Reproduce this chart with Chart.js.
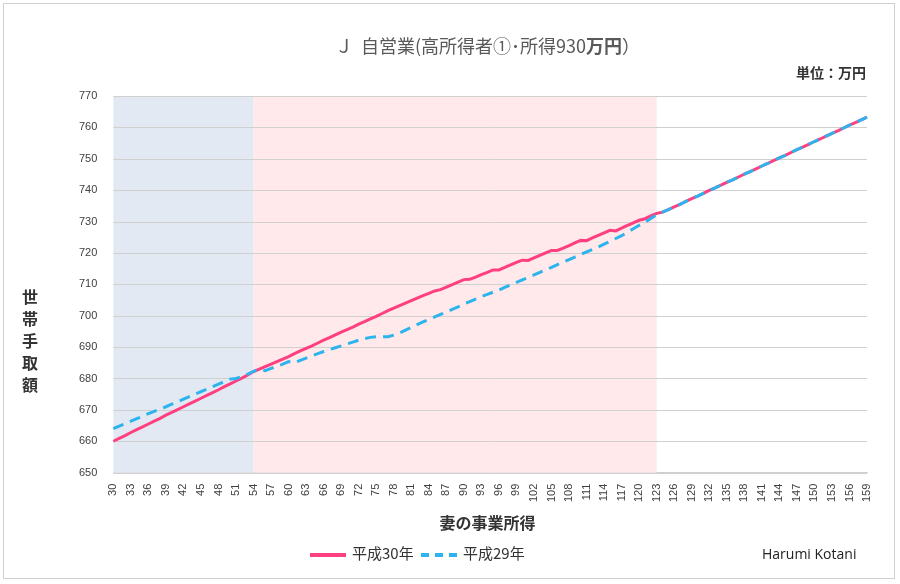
<!DOCTYPE html>
<html><head><meta charset="utf-8">
<script src="https://cdn.jsdelivr.net/npm/chart.js@4/dist/chart.umd.min.js"></script>
<style>
html,body{margin:0;padding:0;background:#fff;}
#wrap{position:absolute;left:3px;top:3px;width:892px;height:576px;border:1px solid #d0d0d0;box-sizing:border-box;}
canvas{position:absolute;left:0;top:0;}
.t{position:absolute;font-family:"Noto Sans CJK JP","Noto Sans",sans-serif;color:#404040;}
.ln{display:inline-block;width:36px;height:0;vertical-align:middle;margin-right:6px;}
</style></head><body>
<div id="wrap"><canvas id="c" width="892" height="576"></canvas></div>
<div class="t" style="left:0;width:975px;top:32px;text-align:center;font-size:18px;color:#595959;">Ｊ&nbsp; 自営業(高所得者①･所得930<b>万円</b>）</div>
<div class="t" style="left:796px;top:62px;font-size:14px;font-weight:bold;color:#333;">単位：万円</div>
<div class="t" style="left:22px;top:285px;width:20px;font-size:16px;font-weight:bold;line-height:22px;color:#333;">世<br>帯<br>手<br>取<br>額</div>
<div class="t" style="left:0;width:975px;text-align:center;top:510px;font-size:16px;font-weight:bold;color:#333;">妻の事業所得</div>
<div class="t" style="left:310px;top:542px;font-size:15px;color:#333;"><span class="ln" style="border-top:4px solid #ff3f80"></span>平成30年 <span class="ln" style="border-top:4px dashed #2db4ec;margin-left:4px"></span>平成29年</div>
<div class="t" style="left:762px;top:544px;font-size:14px;font-family:'Open Sans',sans-serif;color:#222;">Harumi Kotani</div>
<script>
const categories=[];for(let i=30;i<=159;i++)categories.push(i);
const yTicks=[650,660,670,680,690,700,710,720,730,740,750,760,770];
const tail=[733.0,733.8,734.7,735.5,736.4,737.3,738.1,739.0,739.9,740.7,741.6,742.5,743.3,744.2,745.1,745.9,746.8,747.7,748.5,749.4,750.3,751.1,752.0,752.9,753.7,754.6,755.5,756.3,757.2,758.1,758.9,759.8,760.7,761.5,762.4,763.3];
const h30=[660.0,660.9,661.8,662.8,663.7,664.6,665.5,666.4,667.3,668.3,669.2,670.1,671.0,671.9,672.8,673.7,674.6,675.5,676.4,677.4,678.3,679.2,680.1,681.1,682.2,
683.0,683.8,684.6,685.4,686.2,687.0,687.9,688.8,689.6,690.4,691.3,692.2,693.0,693.9,694.8,695.6,696.4,697.3,698.1,699.0,699.8,700.7,701.6,702.4,703.2,704.0,704.8,705.6,706.4,707.1,707.9,708.3,709.1,709.9,710.7,711.5,711.6,712.3,713.1,713.8,714.6,714.6,715.4,716.2,717.0,717.7,717.6,718.4,719.2,720.0,720.8,720.8,721.5,722.3,723.2,724.0,723.9,724.8,725.6,726.4,727.2,727.0,727.9,728.8,729.6,730.4,730.9,731.8,732.6].concat(tail);
const h29=[664.0,664.8,665.6,666.4,667.2,668.0,668.8,669.5,670.3,671.0,671.8,672.6,673.4,674.2,675.0,675.8,676.6,677.4,678.2,679.0,679.8,680.0,680.6,681.4,682.3,
683.0,682.5,683.2,683.9,684.6,685.4,685.0,685.8,686.5,687.2,687.9,688.6,689.2,689.8,690.4,691.0,691.6,692.2,692.7,693.1,693.3,693.3,693.3,693.8,694.5,695.4,696.3,697.2,698.0,698.8,699.6,700.4,701.2,702.0,702.8,703.7,704.5,705.3,706.1,706.8,707.5,708.2,709.0,709.8,710.6,711.4,712.2,713.0,713.8,714.6,715.4,716.3,717.1,717.9,718.7,719.5,720.3,721.1,721.9,722.8,723.7,724.6,725.5,726.6,727.7,728.8,729.8,731.0,732.2].concat(tail);
const bands=[{from:30,to:54,color:'#e2e9f3'},{from:54,to:123,color:'#ffe9ea'}];
const shade={id:'shade',beforeDatasetsDraw(ch){const x=ch.scales.x,y=ch.scales.y,c=ch.ctx;c.save();
bands.forEach(b=>{const x0=x.getPixelForValue(categories.indexOf(b.from)),x1=x.getPixelForValue(categories.indexOf(b.to));c.fillStyle=b.color;c.fillRect(x0,y.top,x1-x0,y.bottom-y.top);});
c.restore();}};
const gridFront={id:'gf',beforeDatasetsDraw(ch){const y=ch.scales.y,x=ch.scales.x,c=ch.ctx;c.save();c.strokeStyle='#d0d0d0';c.lineWidth=1;
yTicks.forEach(v=>{const p=Math.round(y.getPixelForValue(v))+0.5;c.beginPath();c.moveTo(x.left,p);c.lineTo(x.right,p);c.stroke();});c.restore();}};
new Chart(document.getElementById('c'),{type:'line',
data:{labels:categories,datasets:[
{label:'平成30年',data:h30,borderColor:'#ff3f80',borderWidth:3,pointRadius:0,tension:0,order:2},
{label:'平成29年',data:h29,borderColor:'#2db4ec',borderWidth:3,borderDash:[11,7],pointRadius:0,tension:0,order:1}]},
options:{responsive:false,animation:false,
layout:{padding:{left:67,right:29,top:92,bottom:75}},
plugins:{legend:{display:false},tooltip:{enabled:false}},
scales:{
x:{grid:{display:false},border:{color:'#d0d0d0'},ticks:{autoSkip:false,maxRotation:90,minRotation:90,font:{size:11},color:'#404040',callback(v,i){return i%3===0?categories[i]:'';}}},
y:{min:650,max:770,afterBuildTicks(s){s.ticks=yTicks.map(v=>({value:v}));},grid:{display:false},border:{display:false},ticks:{font:{size:11},color:'#404040',padding:8}}}},
plugins:[shade,gridFront]});
</script></body></html>
